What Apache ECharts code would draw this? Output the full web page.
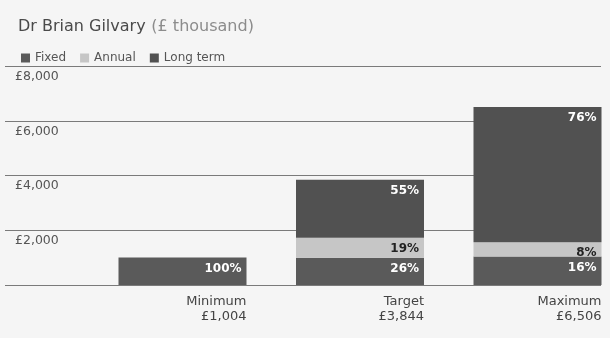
<!DOCTYPE html>
<html>
<head>
<meta charset="utf-8">
<script src="https://cdn.jsdelivr.net/npm/echarts@6/dist/echarts.min.js"></script>
<style>
  html, body { margin: 0; padding: 0; background: #f5f5f5; }
  #chart { width: 610px; height: 338px; }
</style>
</head>
<body>
<div id="chart"></div>
<script>
// Pay scenarios, £ thousand
const categories = ['Minimum', 'Target', 'Maximum'];
const fixedPay = [1004, 1000, 1041];
const annualBonus = [0, 730, 520];
const longTerm = [0, 2114, 4945];
const yTicks = [0, 2000, 4000, 6000, 8000];

const totals = categories.map((_, i) => fixedPay[i] + annualBonus[i] + longTerm[i]);
const money = v => '£' + v.toLocaleString('en-GB');

const FONT = 'DejaVu Sans, Verdana, sans-serif';
const chart = echarts.init(document.getElementById('chart'), null, { renderer: 'canvas' });

function shareLabel(color) {
  return {
    show: true,
    position: 'insideTopRight',
    distance: 5,
    fontFamily: FONT,
    fontWeight: 'bold',
    fontSize: 12,
    color: color,
    formatter: p => p.value > 0 ? Math.round(p.value / totals[p.dataIndex] * 100) + '%' : ''
  };
}

const GRID_TOP = 66, GRID_BOTTOM = 53;

chart.setOption({
  backgroundColor: '#f5f5f5',
  animation: false,
  textStyle: { fontFamily: FONT },
  title: {
    left: 13,
    top: 13,
    text: '{a|Dr Brian Gilvary} {b|(£ thousand)}',
    textStyle: {
      fontWeight: 'normal',
      rich: {
        a: { fontFamily: FONT, fontSize: 16, fontWeight: 'normal', color: '#4a4a4a' },
        b: { fontFamily: FONT, fontSize: 16, fontWeight: 'normal', color: '#8c8c8c' }
      }
    }
  },
  legend: {
    left: 16,
    top: 47,
    itemWidth: 9,
    itemHeight: 9,
    itemGap: 14,
    icon: 'rect',
    textStyle: { fontFamily: FONT, fontSize: 12, color: '#555' },
    data: ['Fixed', 'Annual', 'Long term']
  },
  grid: [
    { left: 5, right: 9, top: GRID_TOP, bottom: GRID_BOTTOM },
    { left: 182.5, right: 72.5, top: GRID_TOP, bottom: GRID_BOTTOM }
  ],
  xAxis: [
    { gridIndex: 0, type: 'value', min: 0, max: 1, show: false },
    {
      gridIndex: 1,
      type: 'category',
      data: categories,
      boundaryGap: false,
      axisLine: { show: false },
      axisTick: { show: false },
      axisLabel: {
        margin: 9,
        align: 'center',
        lineHeight: 15,
        formatter: (v, i) => '{c|' + v + '}\n{c|' + money(totals[i]) + '}',
        rich: {
          c: { width: 128, align: 'right', fontFamily: FONT, fontSize: 13, color: '#444', lineHeight: 15 }
        }
      }
    }
  ],
  yAxis: [
    {
      gridIndex: 0,
      type: 'value',
      min: yTicks[0],
      max: yTicks[yTicks.length - 1],
      interval: yTicks[1] - yTicks[0],
      axisLine: { show: false },
      axisTick: { show: false },
      splitLine: { show: true, lineStyle: { color: '#7a7a7a', width: 1 } },
      axisLabel: {
        inside: true,
        margin: 10,
        verticalAlign: 'top',
        padding: [4, 0, 0, 0],
        fontFamily: FONT,
        fontSize: 12.5,
        color: '#555',
        formatter: v => v === 0 ? '' : money(v)
      }
    },
    {
      gridIndex: 1,
      type: 'value',
      min: yTicks[0],
      max: yTicks[yTicks.length - 1],
      show: false,
      splitLine: { show: false }
    }
  ],
  series: [
    {
      name: 'Fixed', type: 'bar', stack: 'pay', xAxisIndex: 1, yAxisIndex: 1,
      barWidth: 128, clip: false, data: fixedPay,
      itemStyle: { color: '#5a5a5a' },
      label: shareLabel('#ffffff')
    },
    {
      name: 'Annual', type: 'bar', stack: 'pay', xAxisIndex: 1, yAxisIndex: 1,
      barWidth: 128, clip: false, data: annualBonus,
      itemStyle: { color: '#c6c6c6' },
      label: shareLabel('#222222')
    },
    {
      name: 'Long term', type: 'bar', stack: 'pay', xAxisIndex: 1, yAxisIndex: 1,
      barWidth: 128, clip: false, data: longTerm,
      itemStyle: { color: '#515151' },
      label: shareLabel('#ffffff')
    }
  ]
});
</script>
</body>
</html>
